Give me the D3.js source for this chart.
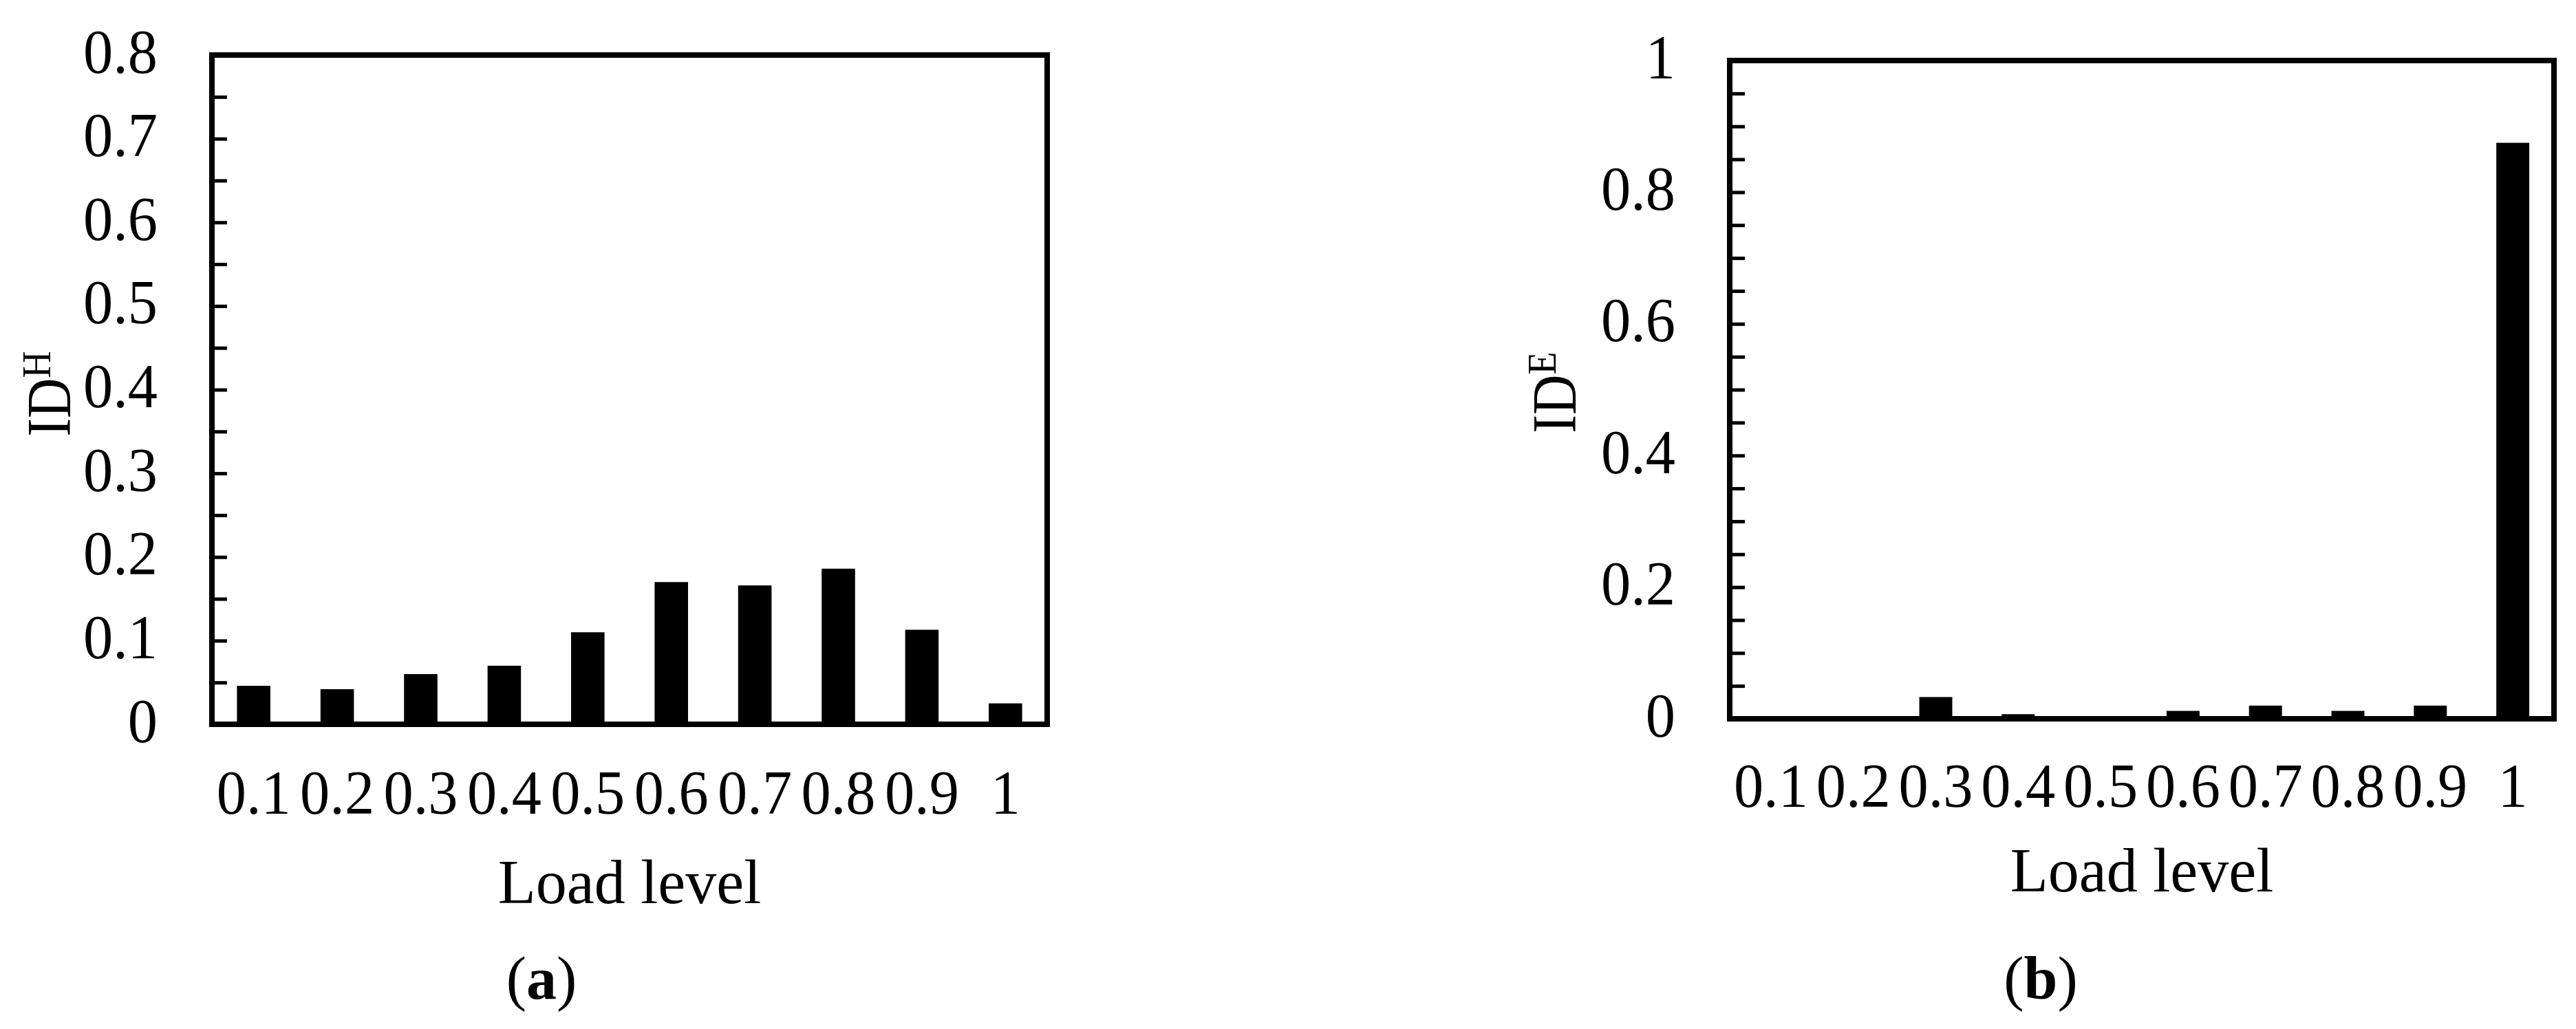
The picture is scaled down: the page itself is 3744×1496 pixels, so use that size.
<!DOCTYPE html>
<html>
<head>
<meta charset="utf-8">
<script src="https://cdn.jsdelivr.net/npm/d3@7"></script>
<style>
  body { margin: 0; background: #fff; }
  text { font-family: "Liberation Serif", "Times New Roman", serif; fill: #000; }
</style>
</head>
<body>
<div class="canvas"></div>
<script>

// DATA

var loadLevels = ["0.1", "0.2", "0.3", "0.4", "0.5", "0.6", "0.7", "0.8", "0.9", "1"];

var idH = [0.046, 0.042, 0.060, 0.070, 0.110, 0.170, 0.166, 0.186, 0.113, 0.025];
var idE = [0, 0, 0.033, 0.007, 0, 0.012, 0.020, 0.012, 0.020, 0.875];

var yTicksH = [0, 0.1, 0.2, 0.3, 0.4, 0.5, 0.6, 0.7, 0.8];
var yTicksE = [0, 0.2, 0.4, 0.6, 0.8, 1];


var svg = d3.select(".canvas")
            .append("svg")
            .attr("width", 3744)
            .attr("height", 1496);

svg.append("rect")
   .attr("width", 3744)
   .attr("height", 1496)
   .attr("fill", "#fff");

var squeeze = 0.96;   // tick labels are slightly condensed in the original

function drawPanel(p) {

    var x = d3.scaleBand()
              .domain(loadLevels)
              .range([p.left, p.right])
              .paddingInner(0.6)
              .paddingOuter(0.3);

    var y = d3.scaleLinear()
              .domain([0, p.max])
              .range([p.bottom, p.top]);

    var rows = loadLevels.map(function(l, i){ return {level: l, value: p.values[i]}; });

    // BARS
    svg.append("g")
       .selectAll("rect")
       .data(rows)
       .join("rect")
       .attr("x", function(d){ return x(d.level); })
       .attr("width", x.bandwidth())
       .attr("y", function(d){ return y(d.value); })
       .attr("height", function(d){ return p.bottom - y(d.value); })
       .attr("fill", "#000");

    // Y AXIS (minor ticks every 0.05, labels on the major ones)
    var minor = d3.range(0, p.max + 1e-9, 0.05);
    var yAxis = d3.axisLeft(y)
                  .tickValues(minor)
                  .tickSize(-22)
                  .tickPadding(0)
                  .tickFormat(function(d){
                      var hit = p.ticks.find(function(t){ return Math.abs(t - d) < 1e-6; });
                      return hit === undefined ? "" : d3.format("~g")(hit);
                  });

    var gy = svg.append("g")
                .attr("transform", "translate(" + p.left + ",0)")
                .call(yAxis);
    gy.select(".domain").remove();
    gy.selectAll("line").attr("stroke", "#000").attr("stroke-width", 5);
    gy.selectAll("text")
      .attr("font-family", "Liberation Serif, Times New Roman, serif")
      .attr("font-size", 90)
      .attr("x", -79 / squeeze)
      .attr("y", 25)
      .attr("dy", null)
      .attr("transform", "scale(" + squeeze + ",1)");

    // X AXIS
    var gx = svg.append("g")
                .attr("transform", "translate(0," + p.bottom + ")")
                .call(d3.axisBottom(x).tickSize(0));
    gx.select(".domain").remove();
    gx.selectAll("text")
      .attr("font-family", "Liberation Serif, Times New Roman, serif")
      .attr("font-size", 90)
      .attr("y", p.xLabelDy)
      .attr("dy", null)
      .attr("transform", "scale(" + squeeze + ",1)")
      .attr("x", 0);

    // FRAME
    svg.append("rect")
       .attr("x", p.left)
       .attr("y", p.top)
       .attr("width", p.right - p.left)
       .attr("height", p.bottom - p.top)
       .attr("fill", "none")
       .attr("stroke", "#000")
       .attr("stroke-width", 8);

    // AXIS TITLES
    var yt = svg.append("text")
                .attr("transform", "translate(" + p.yTitleX + "," + p.yTitleY + ") rotate(-90) scale(0.9,1)")
                .attr("font-size", 90);
    yt.append("tspan").text("ID");
    yt.append("tspan")
      .attr("font-size", 60)
      .attr("dy", -29)
      .text(p.sup);

    svg.append("text")
       .attr("x", (p.left + p.right) / 2)
       .attr("y", p.xTitleY)
       .attr("text-anchor", "middle")
       .attr("font-size", 90)
       .text("Load level");

    // CAPTION
    var cap = svg.append("text")
                 .attr("x", p.capX)
                 .attr("y", 1452)
                 .attr("text-anchor", "middle")
                 .attr("font-size", 88);
    cap.append("tspan").text("(");
    cap.append("tspan").attr("font-weight", "bold").text(p.caption);
    cap.append("tspan").text(")");
}

drawPanel({
    left: 308, right: 1522, top: 80, bottom: 1053,
    max: 0.8, values: idH, ticks: yTicksH,
    xLabelDy: 130, xTitleY: 1313,
    yTitleX: 102, yTitleY: 635, sup: "H",
    capX: 787, caption: "a"
});

drawPanel({
    left: 2514, right: 3712, top: 88, bottom: 1045,
    max: 1, values: idE, ticks: yTicksE,
    xLabelDy: 128, xTitleY: 1296,
    yTitleX: 2290, yTitleY: 630, sup: "E",
    capX: 2966, caption: "b"
});

</script>
</body>
</html>
